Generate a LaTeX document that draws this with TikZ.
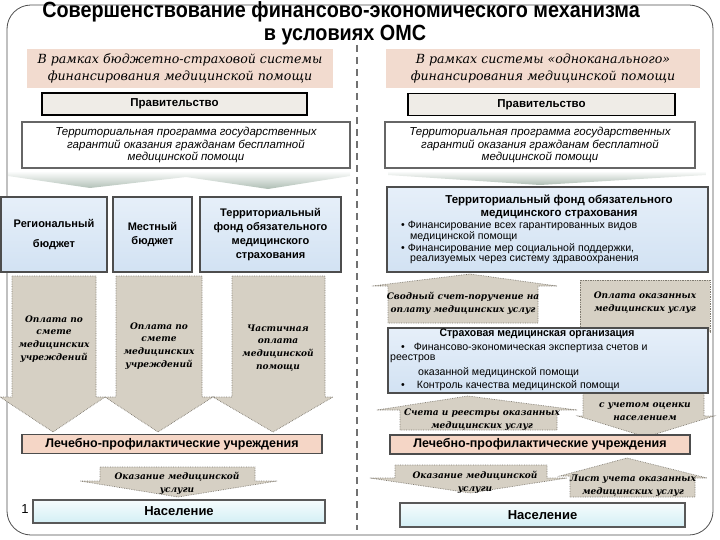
\documentclass[tikz,border=0pt]{standalone}
\usepackage{fontspec}
\setmainfont{Liberation Sans}
\newfontfamily\serfont{DejaVu Serif}
\newcommand\fsz[2]{\fontsize{#1}{#2}\selectfont}
\definecolor{hdrpink}{HTML}{F2DBCF}
\definecolor{govfill}{HTML}{EFECE7}
\definecolor{bluetop}{HTML}{E6EFF9}
\definecolor{bluebot}{HTML}{D2E2F3}
\definecolor{lpufill}{HTML}{F5D6C6}
\definecolor{poptop}{HTML}{F6FCFD}
\definecolor{popbot}{HTML}{D3EFF5}
\definecolor{arrfill}{HTML}{D6D0C4}
\definecolor{arrline}{HTML}{7F7A70}
\definecolor{chev}{HTML}{AEBDB3}
\definecolor{edge}{HTML}{4D4D4D}
\begin{document}
\begin{tikzpicture}[x=1pt,y=-1pt,
  titlef/.style={font=\bfseries\fsz{22}{24}, inner sep=0pt},
  hdr/.style={fill=hdrpink, inner sep=0pt, minimum height=39pt, align=center, font=\serfont\itshape\fsz{12.6}{16.5}},
  gov/.style={draw=black, line width=1.8pt, fill=govfill, inner sep=0pt, minimum height=22pt, font=\bfseries\fsz{11.5}{13}},
  prog/.style={draw=gray!80!black, line width=1.2pt, fill=white, inner sep=0pt, minimum height=46pt, align=center, font=\itshape\fsz{11.5}{12.5}},
  bluebox/.style={draw=edge, line width=1.8pt, top color=bluetop, bottom color=bluebot, inner sep=0pt},
  boxtxt/.style={font=\bfseries\fsz{11}{14}, align=center},
  lpu/.style={draw=edge, line width=1.8pt, fill=lpufill, inner sep=0pt, font=\bfseries\fsz{12.5}{14}},
  pop/.style={draw=gray!70!black, line width=1.4pt, top color=poptop, bottom color=popbot, inner sep=0pt, font=\bfseries\fsz{13}{14}},
  barrow/.style={fill=arrfill, draw=arrline, densely dotted, line width=0.7pt},
  atxt/.style={font=\serfont\bfseries\itshape\fsz{9}{12.7}, align=center, inner sep=0pt},
  bodytxt/.style={font=\fsz{10.6}{11}, inner sep=0pt, anchor=west},
]
\useasboundingbox (0,0) rectangle (720,540);
\draw[edge, line width=0.8pt, rounded corners=24pt] (7,5) rectangle (713,535);
% title
\node[titlef] (title1) at (341,12) {\scalebox{0.9}[1]{Совершенствование финансово-экономического механизма}};
\node[titlef] (title2) at (345,35) {\scalebox{0.9}[1]{в условиях ОМС}};
% divider
\coordinate (dtop) at (357,45);
\coordinate (dbot) at (357,530);
\draw[edge!80, line width=2pt, dash pattern=on 7pt off 5pt] (dtop) -- (dbot);
% headers
\node[hdr, minimum width=306pt] (hl) at (180,68.5) {В рамках бюджетно-страховой системы\\финансирования медицинской помощи};
\node[hdr, minimum width=314pt] (hr) at (543,68.5) {В рамках системы «одноканального»\\финансирования медицинской помощи};
% government
\node[gov, minimum width=265pt] (gl) at (174.5,104) {Правительство};
\node[gov, minimum width=267pt] (gr) at (541.5,104.5) {Правительство};
% programme
\node[prog, minimum width=328pt] (pl) at (186,145) {Территориальная программа государственных\\гарантий оказания гражданам бесплатной\\медицинской помощи};
\node[prog, minimum width=310pt] (pr) at (540,145) {Территориальная программа государственных\\гарантий оказания гражданам бесплатной\\медицинской помощи};
% chevrons
\shade[top color=white, bottom color=chev] (8,171) -- (350,171) -- (350,176) -- (268,189) -- (186,177) -- (90,188) -- (8,176) -- cycle;
\shade[top color=white, bottom color=chev] (388,171) -- (706,171) -- (706,175) -- (540,185) -- (388,175) -- cycle;
% left arrows
\draw[barrow] (12,276) -- (96,276) -- (96,397) -- (105,397) -- (53,432) -- (0,397) -- (12,397) -- cycle;
\draw[barrow] (116,276) -- (202,276) -- (202,397) -- (213,397) -- (158,432) -- (105,397) -- (116,397) -- cycle;
\draw[barrow] (232,276) -- (325,276) -- (325,397) -- (333,397) -- (273,432) -- (213,397) -- (232,397) -- cycle;
\node[atxt] (a1) at (54,339) {Оплата по\\смете\\медицинских\\учреждений};
\node[atxt] (a2) at (159,346) {Оплата по\\смете\\медицинских\\учреждений};
\node[atxt] (a3) at (278,348) {Частичная\\оплата\\медицинской\\помощи};
% left boxes
\node[bluebox, boxtxt, minimum width=106pt, minimum height=75pt] (rb) at (54,234.5) {Региональный\\[6pt]бюджет};
\node[bluebox, boxtxt, minimum width=79pt, minimum height=75pt] (mb) at (152.5,234.5) {Местный\\бюджет};
\node[bluebox, boxtxt, minimum width=141pt, minimum height=75pt] (tfl) at (270.5,234.5) {Территориальный\\фонд обязательного\\медицинского\\страхования};
% left bottom
\node[lpu, minimum width=300pt, minimum height=19pt] (lpul) at (172,444) {Лечебно-профилактические учреждения};
\draw[barrow] (100,467) -- (255,467) -- (255,481) -- (277,481) -- (178,497) -- (80,481) -- (100,481) -- cycle;
\node[atxt] (okl) at (177,483) {Оказание медицинской\\услуги};
\node[pop, minimum width=292pt, minimum height=23pt] (popl) at (179,511.5) {Население};
\node[font=\fsz{13}{14}, inner sep=0pt] (pg) at (25,509) {1};
% right side
\node[bluebox, minimum width=321pt, minimum height=85pt] (tf) at (547.5,229.5) {};
\node[font=\bfseries\fsz{11.5}{13}, align=center, inner sep=0pt] (tft) at (559,206.5) {Территориальный фонд обязательного\\медицинского страхования};
\node[bodytxt] (tf1) at (401,226) {•\ Финансирование всех гарантированных видов};
\node[bodytxt] (tf2) at (410,237) {медицинской помощи};
\node[bodytxt] (tf3) at (401,248.5) {•\ Финансирование мер социальной поддержки,};
\node[bodytxt] (tf4) at (410,259.5) {реализуемых через систему здравоохранения};
% right middle arrows
\draw[barrow] (388,323) -- (388,286) -- (372,286) -- (470,274) -- (557,286) -- (538,286) -- (538,323) -- cycle;
\node[atxt] (sv) at (463,303.5) {Сводный счет-поручение на\\оплату медицинских услуг};
\draw[barrow] (580,280) rectangle (710,332);
\node[atxt] (opl) at (645,303) {Оплата оказанных\\медицинских услуг};
\draw[barrow] (583,390) -- (704,390) -- (704,416) -- (714,416) -- (646,437) -- (578,416) -- (583,416) -- cycle;
\node[atxt] (uch) at (645,411.5) {с учетом оценки\\населением};
\draw[barrow] (400,430) -- (400,410) -- (377,410) -- (468,396) -- (577,410) -- (557,410) -- (557,430) -- cycle;
\node[atxt] (sch) at (482,420) {Счета и реестры оказанных\\медицинских услуг};
% SMO
\node[bluebox, minimum width=320pt, minimum height=65pt] (smo) at (548,360.5) {};
\node[font=\bfseries\fsz{11}{12}, inner sep=0pt] (smot) at (537,334) {\scalebox{0.95}[1]{Страховая медицинская организация}};
\node[bodytxt] (sm1) at (401,347.5) {•\hspace{9pt}Финансово-экономическая экспертиза счетов и};
\node[bodytxt] (sm2) at (390,359) {реестров};
\node[bodytxt] (sm3) at (418,372.5) {оказанной медицинской помощи};
\node[bodytxt] (sm4) at (401,385.5) {•\hspace{12pt}Контроль качества медицинской помощи};
% right bottom
\node[lpu, minimum width=300pt, minimum height=19pt] (lpur) at (540,444.5) {Лечебно-профилактические учреждения};
\draw[barrow] (395,465) -- (547,465) -- (547,478) -- (567,478) -- (470,493) -- (370,478) -- (395,478) -- cycle;
\node[atxt] (okr) at (475,482) {Оказание медицинской\\услуги};
\draw[barrow] (570,497) -- (570,476) -- (560,476) -- (627,458) -- (707,478) -- (695,478) -- (695,497) -- cycle;
\node[atxt] (lst) at (633,486) {Лист учета оказанных\\медицинских услуг};
\node[pop, minimum width=285pt, minimum height=24pt] (popr) at (542.5,515) {Население};
\end{tikzpicture}
\end{document}
